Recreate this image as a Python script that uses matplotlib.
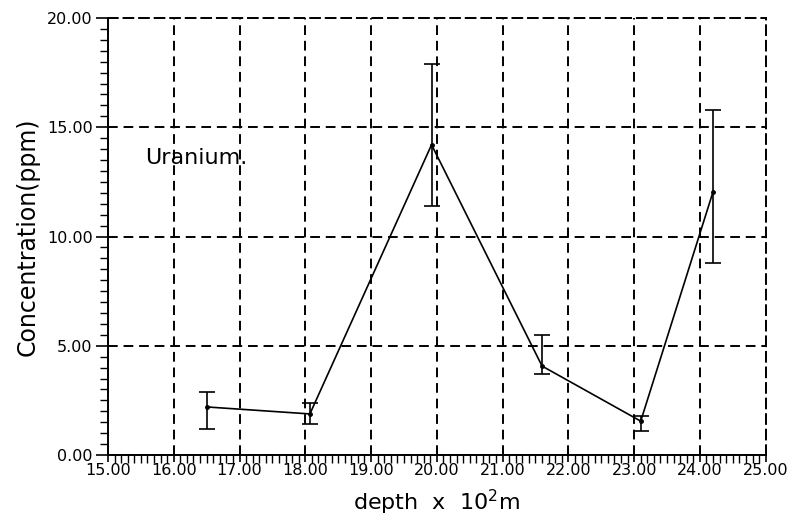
import matplotlib
matplotlib.use("Agg")
import matplotlib.pyplot as plt
from matplotlib.ticker import MultipleLocator, FormatStrFormatter

# depth (x 10^2 m) and uranium concentration (ppm)
depth = [16.50, 18.07, 19.92, 21.60, 23.10, 24.20]
conc = [2.20, 1.88, 14.20, 4.07, 1.55, 12.05]
conc_low = [1.20, 1.40, 11.40, 3.70, 1.08, 8.80]
conc_high = [2.90, 2.40, 17.90, 5.50, 1.80, 15.80]

yerr = [[c - lo for c, lo in zip(conc, conc_low)],
        [hi - c for c, hi in zip(conc, conc_high)]]

fig = plt.figure(figsize=(7.91, 5.19), dpi=100)
ax = fig.add_axes([0.1365, 0.1233, 0.968 - 0.1365, 0.9653 - 0.1233])

ax.errorbar(depth, conc, yerr=yerr, color="black", linewidth=1.2,
            elinewidth=1.2, capsize=6, capthick=1.2,
            marker="o", markersize=2.5)

ax.set_xlim(15, 25)
ax.set_ylim(0, 20)
ax.xaxis.set_major_locator(MultipleLocator(1))
ax.xaxis.set_minor_locator(MultipleLocator(0.1))
ax.yaxis.set_major_locator(MultipleLocator(5))
ax.yaxis.set_minor_locator(MultipleLocator(0.5))
ax.xaxis.set_major_formatter(FormatStrFormatter("%.2f"))
ax.yaxis.set_major_formatter(FormatStrFormatter("%.2f"))

ax.grid(True, which="major", color="black", linestyle=(0, (5, 3)), linewidth=1.4)
for side in ["top", "right"]:
    ax.spines[side].set_linestyle((0, (5, 3)))
    ax.spines[side].set_linewidth(1.4)
for side in ["left", "bottom"]:
    ax.spines[side].set_linewidth(1.4)

ax.tick_params(axis="x", which="major", direction="inout", length=10, width=1.2,
               labelsize=11.5, pad=1)
ax.tick_params(axis="x", which="minor", direction="out", length=6, width=1)
ax.tick_params(axis="y", which="major", direction="out", length=9, width=1.2,
               labelsize=11.5, pad=2)
ax.tick_params(axis="y", which="minor", direction="out", length=6, width=1)

ax.set_xlabel("depth  x  10$^2$m", fontsize=16, labelpad=7)
ax.set_ylabel("Concentration(ppm)", fontsize=17, labelpad=5)

ax.text(15.56, 13.6, "Uranium.", fontsize=16, va="center", ha="left")

fig.savefig("out.png", dpi=100)
